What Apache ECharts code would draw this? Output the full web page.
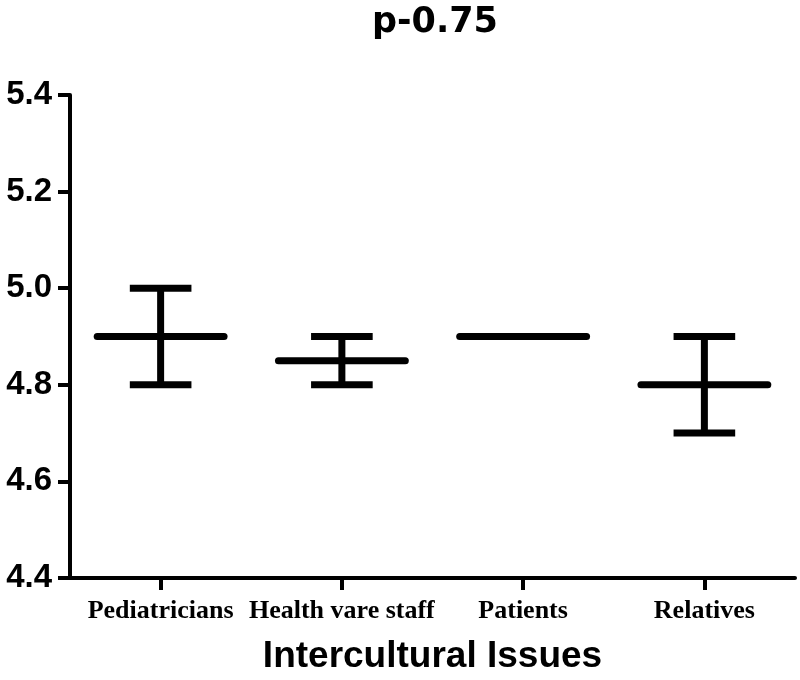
<!DOCTYPE html>
<html>
<head>
<meta charset="utf-8">
<script src="https://cdn.jsdelivr.net/npm/echarts@6/dist/echarts.min.js"></script>
<style>
html,body{margin:0;padding:0;background:#fff;}
#chart{width:800px;height:680px;}
</style>
</head>
<body>
<div id="chart"></div>
<script>
var categories = ['Pediatricians', 'Health vare staff', 'Patients', 'Relatives'];
var means = [4.9, 4.85, 4.9, 4.8];
var lowers = [4.8, 4.8, 4.9, 4.7];
var uppers = [5.0, 4.9, 4.9, 4.9];
var yTicks = [4.4, 4.6, 4.8, 5.0, 5.2, 5.4];
var titleText = 'p-0.75';
var xAxisTitle = 'Intercultural Issues';

var seriesData = categories.map(function (c, i) {
  return [i, means[i], lowers[i], uppers[i]];
});

var chart = echarts.init(document.getElementById('chart'), null, {renderer: 'canvas'});

function renderItem(params, api) {
  var idx = api.value(0);
  var band = api.size([1, 0])[0];
  var pMean = api.coord([idx, api.value(1)]);
  var pLow = api.coord([idx, api.value(2)]);
  var pHigh = api.coord([idx, api.value(3)]);
  var cx = pMean[0];
  var meanHalf = band * 0.35;
  var capHalf = band * 0.17;
  var st = {stroke: '#000', lineWidth: 7, lineCap: 'butt'};
  var children = [];
  if (Math.abs(pHigh[1] - pLow[1]) > 0.5) {
    children.push({type: 'line', shape: {x1: cx, y1: pHigh[1], x2: cx, y2: pLow[1]}, style: st});
    children.push({type: 'line', shape: {x1: cx - capHalf, y1: pHigh[1], x2: cx + capHalf, y2: pHigh[1]}, style: st});
    children.push({type: 'line', shape: {x1: cx - capHalf, y1: pLow[1], x2: cx + capHalf, y2: pLow[1]}, style: st});
  }
  children.push({type: 'line', shape: {x1: cx - meanHalf, y1: pMean[1], x2: cx + meanHalf, y2: pMean[1]},
    style: {stroke: '#000', lineWidth: 7, lineCap: 'round'}});
  return {type: 'group', children: children};
}

var option = {
  backgroundColor: '#fff',
  animation: false,
  title: {
    text: titleText,
    left: 430,
    textAlign: 'center',
    top: 0,
    textStyle: {fontFamily: 'DejaVu Sans', fontWeight: 'bold', fontSize: 35, color: '#000'}
  },
  grid: {left: 70, right: 5, top: 95, bottom: 99, containLabel: false},
  xAxis: {
    type: 'category',
    data: categories,
    boundaryGap: true,
    name: xAxisTitle,
    nameLocation: 'middle',
    nameGap: 60,
    nameTextStyle: {fontFamily: 'Liberation Sans', fontWeight: 'bold', fontSize: 37, color: '#000'},
    axisLine: {lineStyle: {color: '#000', width: 4}},
    axisTick: {show: true, alignWithLabel: true, length: 12, lineStyle: {color: '#000', width: 4}},
    axisLabel: {margin: 20, fontFamily: 'Liberation Serif', fontWeight: 'bold', fontSize: 26, color: '#000', interval: 0},
    splitLine: {show: false}
  },
  yAxis: {
    type: 'value',
    min: yTicks[0],
    max: yTicks[yTicks.length - 1],
    interval: 0.2,
    axisLine: {show: true, lineStyle: {color: '#000', width: 4}},
    axisTick: {show: true, length: 12, lineStyle: {color: '#000', width: 4}},
    axisLabel: {margin: 18, fontFamily: 'Liberation Sans', fontWeight: 'bold', fontSize: 33, color: '#000',
      formatter: function (v) { return v.toFixed(1); }},
    splitLine: {show: false}
  },
  series: [{
    type: 'custom',
    renderItem: renderItem,
    encode: {x: 0, y: [1, 2, 3]},
    data: seriesData,
    clip: false
  }]
};
chart.setOption(option);
</script>
</body>
</html>
